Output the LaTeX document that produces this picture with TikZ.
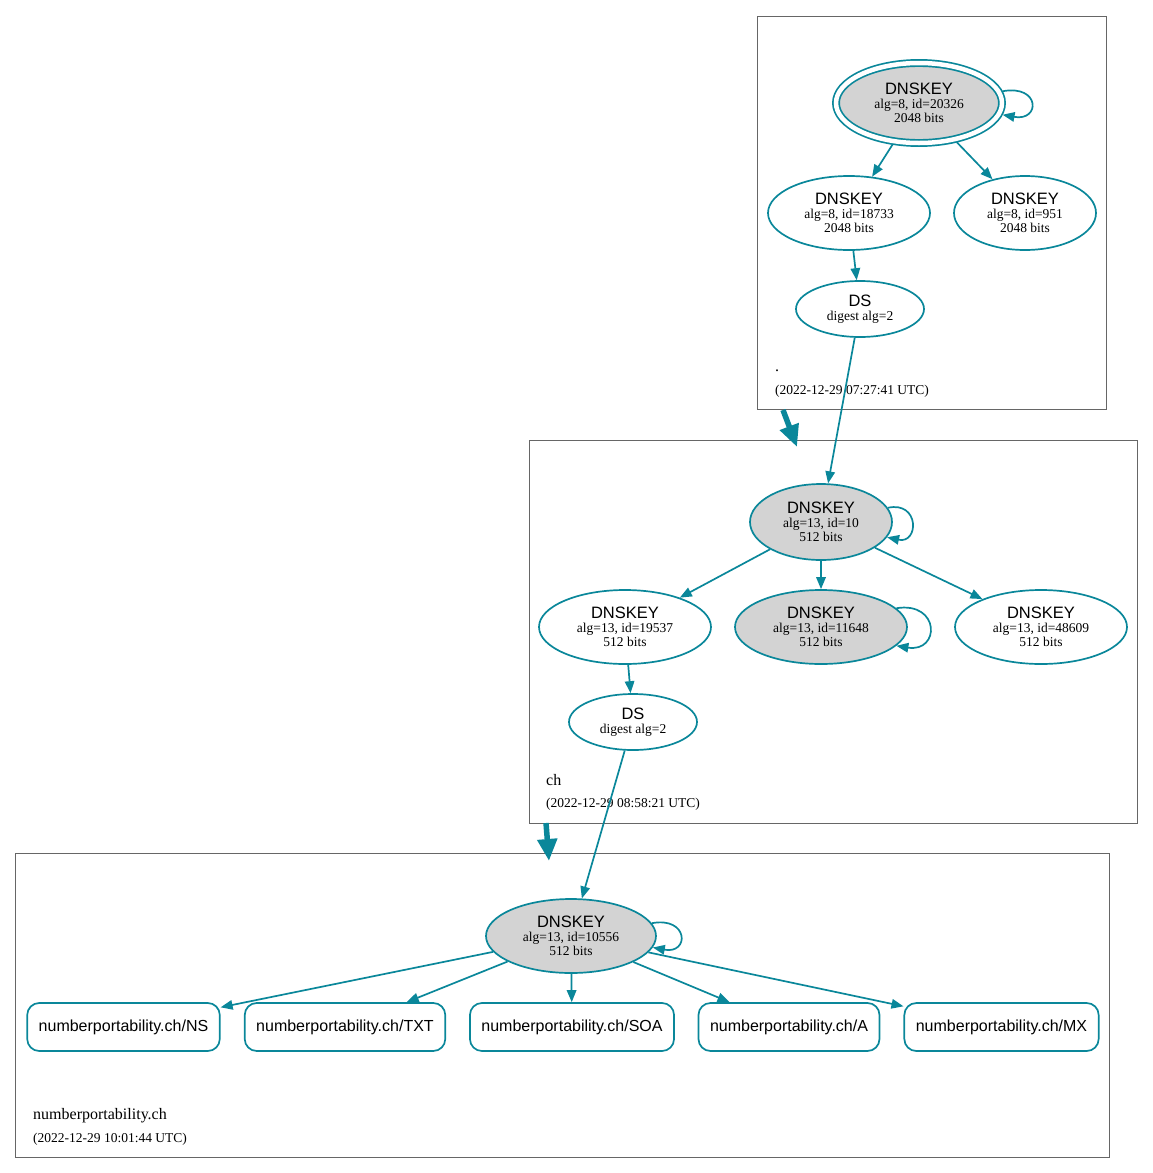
\documentclass[tikz,border=0pt]{standalone}
\usepackage{fontspec}
\setmainfont{Liberation Serif}
\setsansfont{Liberation Sans}
\usetikzlibrary{shapes.geometric,arrows.meta}

\definecolor{secure}{HTML}{0A879A}
\definecolor{keyfill}{HTML}{D3D3D3}

\newcommand{\keytxt}[2]{{\sffamily\fontsize{16.5}{14}\selectfont DNSKEY}\\#1\\#2}
\newcommand{\dstxt}{{\sffamily\fontsize{16.5}{14}\selectfont DS}\\digest alg=2}

\begin{document}
\begin{tikzpicture}[x=1pt,y=-1pt,
    zone/.style={draw=black!60,line width=0.8pt},
    key/.style={ellipse,draw=secure,line width=1.7pt,inner sep=0pt,align=center,
        font=\fontsize{13.5}{14}\selectfont},
    ksk/.style={key,fill=keyfill},
    rrset/.style={draw=secure,line width=1.7pt,rounded corners=12pt,minimum height=48pt,
        inner xsep=11.5pt,font=\sffamily\fontsize{16}{18}\selectfont},
    edge/.style={draw=secure,line width=1.7pt,-{Triangle[length=12pt,width=9.5pt]}},
    deleg/.style={draw=secure,line width=5.5pt,-{Triangle[length=22pt,width=19pt]}},
    zlabel/.style={anchor=base west,inner sep=0pt,font=\fontsize{16}{18}\selectfont},
    zstamp/.style={anchor=base west,inner sep=0pt,font=\fontsize{13.5}{15}\selectfont}]
    \useasboundingbox (0,0) rectangle (1153,1173);

    % zone boxes
    \draw[zone] (757,16) rectangle (1106,409);
    \draw[zone] (529,440) rectangle (1137,823);
    \draw[zone] (15,853) rectangle (1109,1157);

    % root zone
    \node[ksk,minimum width=166pt,minimum height=80pt,double=white,double distance=4.5pt,
        outer sep=3.75pt] (rootksk) at (919,103) {\keytxt{alg=8, id=20326}{2048 bits}};
    \node[key,minimum width=162pt,minimum height=74pt] (root18733) at (849,213) {\keytxt{alg=8, id=18733}{2048 bits}};
    \node[key,minimum width=142pt,minimum height=74pt] (root951) at (1025,213) {\keytxt{alg=8, id=951}{2048 bits}};
    \node[key,minimum width=128pt,minimum height=56pt] (rootds) at (860,309) {\dstxt};
    \node[zlabel] (rootname) at (775,371) {.};
    \node[zstamp] (rootstamp) at (775,394) {(2022-12-29 07:27:41 UTC)};

    \draw[edge] (rootksk.8) .. controls +(38,-7) and +(38,7) .. (rootksk.-8);
    \draw[edge] (rootksk) -- (root18733);
    \draw[edge] (rootksk) -- (root951);
    \draw[edge] (root18733) -- (rootds);

    % ch zone
    \node[ksk,minimum width=142pt,minimum height=76pt] (chksk) at (821,522) {\keytxt{alg=13, id=10}{512 bits}};
    \node[key,minimum width=172pt,minimum height=74pt] (ch19537) at (625,627) {\keytxt{alg=13, id=19537}{512 bits}};
    \node[ksk,minimum width=172pt,minimum height=74pt] (ch11648) at (821,627) {\keytxt{alg=13, id=11648}{512 bits}};
    \node[key,minimum width=172pt,minimum height=74pt] (ch48609) at (1041,627) {\keytxt{alg=13, id=48609}{512 bits}};
    \node[key,minimum width=128pt,minimum height=56pt] (chds) at (633,722) {\dstxt};
    \node[zlabel] (chname) at (546,785) {ch};
    \node[zstamp] (chstamp) at (546,807) {(2022-12-29 08:58:21 UTC)};

    \draw[edge] (rootds) -- (chksk);
    \draw[edge] (chksk.12) .. controls +(32,-7) and +(32,7) .. (chksk.-13);
    \draw[edge] (ch11648.14) .. controls +(44,-7) and +(44,7) .. (ch11648.-14);
    \draw[edge] (chksk) -- (ch19537);
    \draw[edge] (chksk) -- (ch11648);
    \draw[edge] (chksk) -- (ch48609);
    \draw[edge] (ch19537) -- (chds);

    % numberportability.ch zone
    \node[ksk,minimum width=170pt,minimum height=74pt] (npksk) at (571,936) {\keytxt{alg=13, id=10556}{512 bits}};
    \node[zlabel] (npname) at (33,1119) {numberportability.ch};
    \node[zstamp] (npstamp) at (33,1142) {(2022-12-29 10:01:44 UTC)};

    \draw[edge] (chds) -- (npksk);
    \draw[edge] (npksk.9) .. controls +(37,-7) and +(37,7) .. (npksk.-8);
    \foreach \rr/\xx in {NS/123.5,TXT/345,SOA/572,A/789,MX/1001.5} {
        \node[rrset] (rr\rr) at (\xx,1027) {numberportability.ch/\rr};
        \draw[edge] (npksk) -- (rr\rr);
    }

    % delegations
    \coordinate (rootout) at (783,410);
    \coordinate (chin) at (797,447);
    \coordinate (chout) at (546,823);
    \coordinate (npin) at (549,861);
    \draw[deleg] (rootout) -- (chin);
    \draw[deleg] (chout) -- (npin);
\end{tikzpicture}
\end{document}
